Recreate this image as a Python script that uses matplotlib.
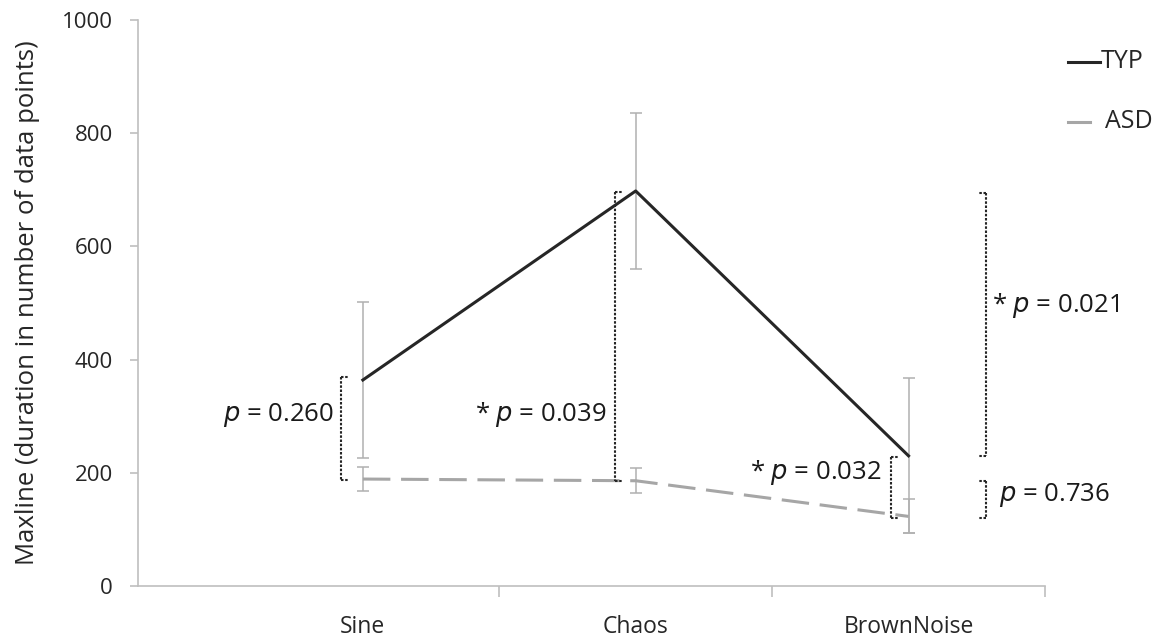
import matplotlib
matplotlib.use("Agg")
import matplotlib.pyplot as plt
import numpy as np

categories = ["Sine", "Chaos", "BrownNoise"]
typ_mean = [364, 698, 230]
typ_err = [138, 138, 137]
asd_mean = [189, 186, 123]
asd_err = [22, 22, 30]
yticks = [0, 200, 400, 600, 800, 1000]

plt.rcParams['font.family'] = ['Open Sans', 'DejaVu Sans']

fig = plt.figure(figsize=(11.63, 6.42), dpi=100)
ax = fig.add_axes([0.1187, 0.0872, 0.7798, 0.8816])

x = np.arange(1, len(categories) + 1)
grey_axis = "#bfbfbf"

ax.errorbar(x, typ_mean, yerr=typ_err, fmt='none', ecolor='#b0b0b0', elinewidth=1.1, capsize=4, capthick=1.1, zorder=2)
ax.errorbar(x, asd_mean, yerr=asd_err, fmt='none', ecolor='#b0b0b0', elinewidth=1.1, capsize=4, capthick=1.1, zorder=2)
ax.plot(x, typ_mean, color='#262626', lw=2.2, zorder=3, label='TYP')
ax.plot(x, asd_mean, color='#a6a6a6', lw=2.2, ls=(0, (9, 3.5)), zorder=3, label='ASD')

ax.set_xlim(0.176, 3.5)
ax.set_ylim(0, 1000)
ax.set_yticks(yticks)
ax.set_xticks(x)
ax.set_xticklabels(categories, fontsize=16.5, color='#262626')
ax.set_xticks([1.5, 2.5, 3.5], minor=True)
ax.tick_params(axis='x', which='major', length=0, pad=21)
ax.tick_params(axis='x', which='minor', length=8, color=grey_axis, width=1.2, direction='out')
ax.tick_params(axis='y', length=6, color=grey_axis, width=1.2, labelsize=16, labelcolor='#262626', pad=12)
for s in ['top', 'right']:
    ax.spines[s].set_visible(False)
for s in ['left', 'bottom']:
    ax.spines[s].set_color(grey_axis)
    ax.spines[s].set_linewidth(1.2)
ax.set_ylabel("Maxline (duration in number of data points)", fontsize=18.5, color='#262626', labelpad=16)

def bracket(xv, y0, y1, cap):
    kw = dict(color='#262626', lw=1.5, ls=(0, (1.2, 0.8)), zorder=4, clip_on=False)
    ax.plot([xv, xv], [y0, y1], **kw)
    ax.plot([xv, xv + cap], [y0, y0], **kw)
    ax.plot([xv, xv + cap], [y1, y1], **kw)

def ptext(xv, yv, star, val, ha):
    s = ("* " if star else "") + r"$\it{p}$" + " = " + val
    ax.text(xv, yv, s, ha=ha, va='center', fontsize=18.5, color='#1a1a1a', clip_on=False)

bracket(0.919, 369, 187, 0.026)
ptext(0.892, 303, False, "0.260", 'right')
bracket(1.923, 696, 186, 0.026)
ptext(1.894, 303, True, "0.039", 'right')
bracket(2.934, 228, 120, 0.026)
ptext(2.9, 201, True, "0.032", 'right')
bracket(3.283, 694, 230, -0.03)
ptext(3.305, 496, True, "0.021", 'left')
bracket(3.283, 186, 120, -0.03)
ptext(3.33, 160, False, "0.736", 'left')

# legend
fig.lines.append(matplotlib.lines.Line2D([1068/1163, 1100/1163], [1-62/642, 1-62/642], color='#262626', lw=2.2, transform=fig.transFigure))
fig.text(1101/1163, 1-62/642, "TYP", fontsize=18, va='center', ha='left', color='#262626')
fig.lines.append(matplotlib.lines.Line2D([1068/1163, 1090/1163], [1-122/642, 1-122/642], color='#a6a6a6', lw=2.2, transform=fig.transFigure))
fig.text(1105/1163, 1-122/642, "ASD", fontsize=18, va='center', ha='left', color='#262626')

fig.savefig("out.png", dpi=100)
